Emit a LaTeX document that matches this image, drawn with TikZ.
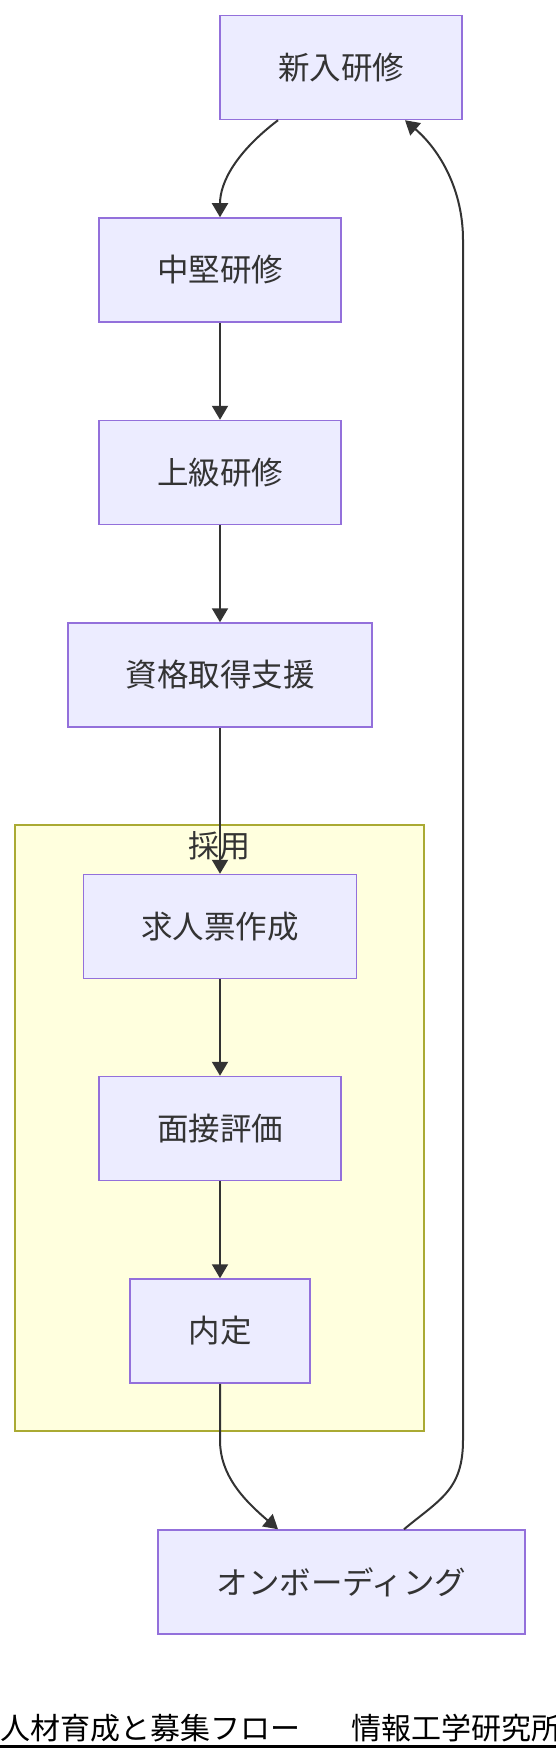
\documentclass[tikz,border=0pt]{standalone}
\usepackage{fontspec}
\setmainfont{Noto Sans CJK JP}
\usetikzlibrary{arrows.meta}
\definecolor{nodefill}{HTML}{ECECFF}
\definecolor{nodeline}{HTML}{9370DB}
\definecolor{clusfill}{HTML}{FFFFDE}
\definecolor{clusline}{HTML}{AAAA33}
\definecolor{edgecol}{HTML}{333333}
\definecolor{txtcol}{HTML}{333333}
\begin{document}
\begin{tikzpicture}[x=1pt,y=-1pt,
  box/.style={draw=nodeline, fill=nodefill, line width=1.5pt, minimum height=104pt,
    inner sep=0pt, text=txtcol, font=\fontsize{31.5}{36}\selectfont},
  cluster/.style={draw=clusline, fill=clusfill, line width=1.5pt, inner sep=0pt},
  flow/.style={draw=edgecol, line width=2pt, -{Triangle[length=14pt,width=16pt]}},
]
\useasboundingbox (0,0) rectangle (556,1760);
\clip (0,0) rectangle (556,1760);
\node[cluster, minimum width=409pt, minimum height=606pt] (clus) at (219.5,1128) {};
\node[inner sep=0pt, text=txtcol, font=\fontsize{31}{36}\selectfont] (clab) at (219.5,846) {採用};
\node[box, minimum width=242pt] (n1) at (341,67.5) {新入研修};
\node[box, minimum width=242pt] (n2) at (220,270) {中堅研修};
\node[box, minimum width=242pt] (n3) at (220,472.5) {上級研修};
\node[box, minimum width=304pt] (n4) at (220,675) {資格取得支援};
\node[box, minimum width=273pt] (n5) at (220,926.5) {求人票作成};
\node[box, minimum width=242pt] (n6) at (220,1128.5) {面接評価};
\node[box, minimum width=180pt] (n7) at (220,1331) {内定};
\node[box, minimum width=367pt] (n8) at (341.5,1582) {オンボーディング};
\coordinate (r1) at (463,1440);
\coordinate (r2) at (463,240);
\coordinate (k1) at (220,1440);
\draw[flow] ([xshift=-63pt]n1.south) .. controls +(-42,32) and +(0,-35) .. (n2.north);
\draw[flow] (n2) -- (n3);
\draw[flow] (n3) -- (n4);
\draw[flow] (n4) -- (n5);
\draw[flow] (n5) -- (n6);
\draw[flow] (n6) -- (n7);
\draw[flow] (n7.south) -- (k1) .. controls +(0,35) and +(-35,-30) .. ([xshift=-63.5pt]n8.north);
\draw[flow] ([xshift=62.5pt]n8.north) .. controls +(36,-30) and +(0,50) .. (r1) -- (r2)
  .. controls +(0,-50) and +(35,30) .. ([xshift=64pt]n1.south);
\node[anchor=base west, inner sep=0pt, font=\fontsize{30}{34}\selectfont, text=black] (title) at (0,1739)
  {人材育成と募集フロー　\hspace{21pt}情報工学研究所};
\draw[line width=2.2pt, black] (title.base west |- 0,1746.5) -- (556,1746.5);
\end{tikzpicture}
\end{document}
